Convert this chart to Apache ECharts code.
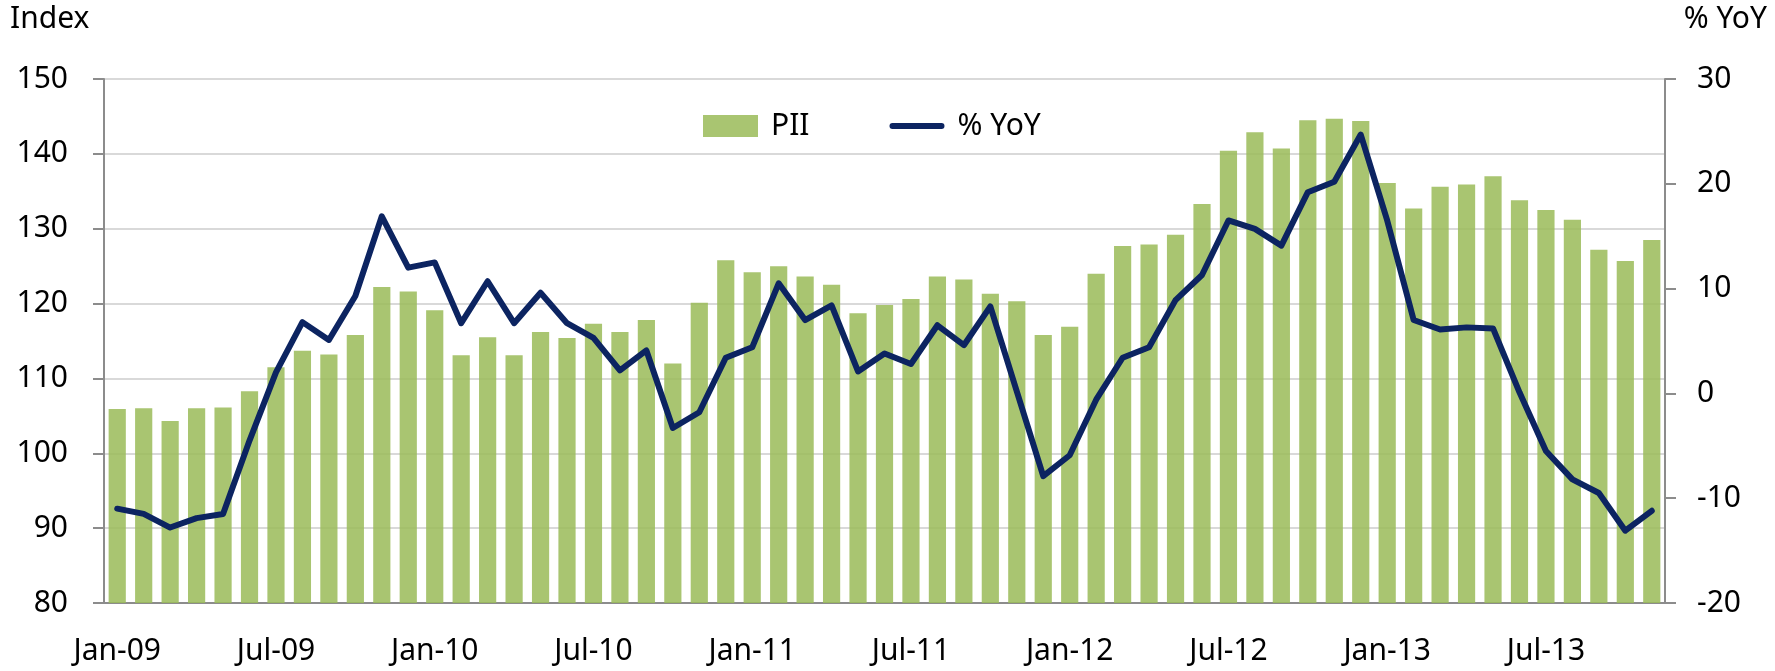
<!DOCTYPE html>
<html>
<head>
<meta charset="utf-8">
<script src="https://cdn.jsdelivr.net/npm/echarts@6/dist/echarts.min.js"></script>
<style>
  html, body { margin: 0; padding: 0; background: #fff; }
  #chart { width: 1775px; height: 671px; }
</style>
</head>
<body>
<div id="chart"></div>
<script>
// monthly categories, Jan-09 .. Nov-13
const months = [
  'Jan-09', 'Feb-09', 'Mar-09', 'Apr-09', 'May-09', 'Jun-09', 'Jul-09', 'Aug-09', 'Sep-09', 'Oct-09', 'Nov-09', 'Dec-09',
  'Jan-10', 'Feb-10', 'Mar-10', 'Apr-10', 'May-10', 'Jun-10', 'Jul-10', 'Aug-10', 'Sep-10', 'Oct-10', 'Nov-10', 'Dec-10',
  'Jan-11', 'Feb-11', 'Mar-11', 'Apr-11', 'May-11', 'Jun-11', 'Jul-11', 'Aug-11', 'Sep-11', 'Oct-11', 'Nov-11', 'Dec-11',
  'Jan-12', 'Feb-12', 'Mar-12', 'Apr-12', 'May-12', 'Jun-12', 'Jul-12', 'Aug-12', 'Sep-12', 'Oct-12', 'Nov-12', 'Dec-12',
  'Jan-13', 'Feb-13', 'Mar-13', 'Apr-13', 'May-13', 'Jun-13', 'Jul-13', 'Aug-13', 'Sep-13', 'Oct-13', 'Nov-13'
]

// PII index (left axis)
const pii = [
  105.9, 106.0, 104.3, 106.0, 106.1, 108.3, 111.5, 113.7, 113.2, 115.8, 122.2, 121.6,
  119.1, 113.1, 115.5, 113.1, 116.2, 115.4, 117.3, 116.2, 117.8, 112.0, 120.1, 125.8,
  124.2, 125.0, 123.6, 122.5, 118.7, 119.8, 120.6, 123.6, 123.2, 121.3, 120.3, 115.8,
  116.9, 124.0, 127.7, 127.9, 129.2, 133.3, 140.4, 142.9, 140.7, 144.5, 144.7, 144.4,
  136.1, 132.7, 135.6, 135.9, 137.0, 133.8, 132.5, 131.2, 127.2, 125.7, 128.5
]

// % YoY (right axis)
const yoy = [
  -11.0, -11.5, -12.8, -11.9, -11.5, -4.5, 2.0, 6.8, 5.1, 9.3, 16.9, 12.0,
  12.5, 6.7, 10.7, 6.7, 9.6, 6.7, 5.3, 2.2, 4.1, -3.3, -1.8, 3.4,
  4.4, 10.5, 7.0, 8.4, 2.1, 3.8, 2.8, 6.5, 4.6, 8.3, 0.2, -7.9,
  -5.9, -0.6, 3.4, 4.4, 8.9, 11.3, 16.5, 15.7, 14.1, 19.2, 20.2, 24.7,
  16.5, 7.0, 6.1, 6.3, 6.2, 0.1, -5.5, -8.2, -9.5, -13.1, -11.2
]

const font = 'Noto Sans'
const fontSize = 30
const axisGray = '#8c8c8c'
const navy = '#0c2461'

const chart = echarts.init(document.getElementById('chart'))
chart.setOption({
  animation: false,
  textStyle: { fontFamily: font },
  grid: { left: 104, right: 110, top: 79, bottom: 68 },
  graphic: [
    { type: 'text', left: 10, top: 4, style: { text: 'Index', font: fontSize + 'px "Noto Sans"', fill: '#000' } },
    { type: 'text', right: 8, top: 4, style: { text: '% YoY', font: fontSize + 'px "Noto Sans"', fill: '#000' } }
  ],
  legend: {
    left: 698,
    top: 106,
    itemWidth: 55,
    itemHeight: 22,
    itemGap: 80,
    textStyle: { fontFamily: font, fontSize: fontSize, color: '#000', padding: [0, 0, 0, 8] },
    data: [
      { name: 'PII', icon: 'rect' },
      // thin rounded bar so the legend shows a plain line without a marker
      { name: '% YoY', icon: 'path://M3,0 L52,0 A3,3 0 0 1 52,6 L3,6 A3,3 0 0 1 3,0 Z' }
    ]
  },
  xAxis: {
    type: 'category',
    data: months,
    boundaryGap: true,
    axisLine: { onZero: false, lineStyle: { color: axisGray, width: 2 } },
    axisTick: {
      length: 11,
      lineStyle: { color: axisGray, width: 2 },
      interval: (i) => i % 6 === 0
    },
    axisLabel: {
      interval: 5,
      margin: 33,
      fontSize: fontSize,
      color: '#000',
      fontFamily: font
    }
  },
  yAxis: [
    {
      type: 'value',
      min: 80,
      max: 150,
      interval: 10,
      axisLine: { show: true, lineStyle: { color: axisGray, width: 2 } },
      axisTick: { show: true, length: 11, lineStyle: { color: axisGray, width: 2 } },
      axisLabel: { margin: 36, fontSize: fontSize, color: '#000', fontFamily: font },
      splitLine: { lineStyle: { color: '#d9d9d9', width: 2 } }
    },
    {
      type: 'value',
      min: -20,
      max: 30,
      interval: 10,
      position: 'right',
      axisLine: { show: true, lineStyle: { color: axisGray, width: 2 } },
      axisTick: { show: true, length: 11, lineStyle: { color: axisGray, width: 2 } },
      axisLabel: { margin: 32, fontSize: fontSize, color: '#000', fontFamily: font },
      splitLine: { show: false }
    }
  ],
  series: [
    {
      name: 'PII',
      type: 'bar',
      data: pii,
      barCategoryGap: '35%',
      itemStyle: { color: 'rgba(155,188,90,0.86)' }
    },
    {
      name: '% YoY',
      type: 'line',
      yAxisIndex: 1,
      data: yoy,
      symbol: 'none',
      z: 5,
      lineStyle: { color: navy, width: 6, cap: 'round', join: 'round' },
      itemStyle: { color: navy }
    }
  ]
})
</script>
</body>
</html>
